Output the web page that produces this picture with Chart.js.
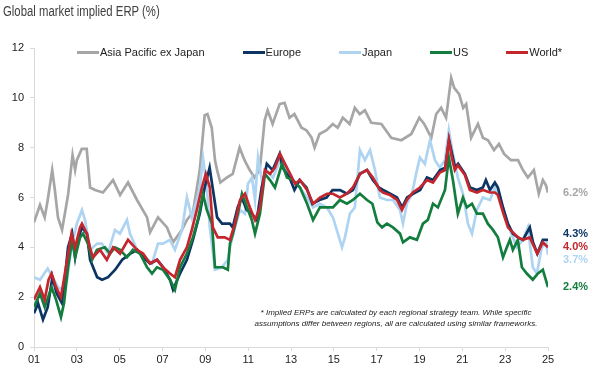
<!DOCTYPE html>
<html>
<head>
<meta charset="utf-8">
<script src="https://cdn.jsdelivr.net/npm/chart.js@4"></script>
<style>
  body { margin: 0; background: #fff; }
  #wrap { position: relative; width: 598px; height: 381px; font-family: "Liberation Sans", Arial, sans-serif; }
  #title { position: absolute; left: 3px; top: 3px; font-family: "Liberation Sans", Arial, sans-serif; font-size: 14px; color: #404040; transform: scaleX(0.81); transform-origin: left top; white-space: nowrap; }
  #legend { position: absolute; left: 77px; top: 46px; display: flex; gap: 38px; font-size: 11px; color: #222; }
  #legend .item { display: flex; align-items: center; }
  #legend .swatch { width: 22px; height: 3px; margin-right: 1px; }
  #note { position: absolute; left: 246px; top: 307px; width: 300px; text-align: center; font-size: 8px; font-style: italic; line-height: 11px; color: #222; }
</style>
</head>
<body>
<div id="wrap">
  <canvas id="erpChart" width="598" height="381"></canvas>
  <div id="title">Global market implied ERP (%)</div>
  <div id="legend"></div>
  <div id="note">* Implied ERPs are calculated by each regional strategy team. While specific assumptions differ between regions, all are calculated using similar frameworks.</div>
</div>
<script>
// Series: [year, ERP %]
const asiaPacExJapan = [
  [2001.0, 5.0], [2001.28, 5.7], [2001.5, 5.2], [2001.64, 5.9], [2001.85, 7.1], [2001.96, 6.4],
  [2002.12, 5.2], [2002.31, 4.7], [2002.45, 5.4], [2002.59, 6.1], [2002.8, 7.7], [2002.92, 7.1],
  [2003.0, 7.5], [2003.23, 7.95], [2003.46, 7.95], [2003.62, 6.4], [2003.85, 6.3], [2004.22, 6.2],
  [2004.69, 6.7], [2005.02, 6.1], [2005.39, 6.6], [2005.81, 5.9], [2006.28, 5.2], [2006.42, 4.6],
  [2006.79, 5.2], [2007.21, 4.8], [2007.49, 4.2], [2007.91, 4.7], [2008.14, 5.1], [2008.42, 5.4],
  [2008.74, 7.1], [2008.97, 9.3], [2009.1, 9.35], [2009.3, 8.8], [2009.45, 7.5], [2009.55, 7.1],
  [2009.7, 6.6], [2010.0, 6.8], [2010.28, 6.95], [2010.6, 8.0], [2010.83, 7.5], [2011.07, 7.1],
  [2011.3, 6.8], [2011.54, 7.1], [2011.77, 9.1], [2011.91, 9.5], [2012.14, 8.95], [2012.47, 9.75],
  [2012.7, 9.8], [2012.93, 9.2], [2013.16, 9.35], [2013.49, 8.8], [2013.72, 8.7], [2013.96, 8.4],
  [2014.1, 8.0], [2014.33, 8.55], [2014.66, 8.7], [2014.95, 8.95], [2015.18, 8.8], [2015.42, 9.2],
  [2015.74, 8.95], [2015.98, 9.6], [2016.21, 9.35], [2016.45, 9.5], [2016.75, 9.0], [2017.22, 8.95],
  [2017.68, 8.4], [2018.15, 8.3], [2018.62, 8.55], [2018.99, 9.2], [2019.22, 8.95], [2019.55, 8.4],
  [2019.78, 9.35], [2020.01, 9.6], [2020.24, 9.2], [2020.48, 10.8], [2020.62, 10.4], [2020.85, 10.15],
  [2021.04, 9.6], [2021.18, 9.75], [2021.41, 8.4], [2021.73, 8.95], [2021.96, 8.4], [2022.2, 8.3],
  [2022.48, 7.9], [2022.71, 8.15], [2022.95, 7.75], [2023.27, 7.5], [2023.6, 7.5], [2023.83, 7.1],
  [2024.06, 6.8], [2024.34, 7.1], [2024.57, 6.15], [2024.76, 6.7], [2024.9, 6.5], [2025.0, 6.2]
];
const europe = [
  [2001.0, 1.35], [2001.19, 1.75], [2001.42, 1.1], [2001.64, 1.6], [2001.86, 2.8], [2002.06, 2.15],
  [2002.31, 1.75], [2002.45, 2.8], [2002.59, 4.0], [2002.78, 4.55], [2002.92, 3.6], [2003.05, 4.3],
  [2003.24, 4.8], [2003.47, 4.55], [2003.62, 3.5], [2003.95, 2.8], [2004.18, 2.7], [2004.46, 2.8],
  [2004.79, 3.1], [2005.12, 3.5], [2005.5, 3.75], [2005.82, 3.9], [2006.1, 3.6], [2006.42, 3.35],
  [2006.75, 3.5], [2007.03, 3.2], [2007.35, 2.7], [2007.49, 2.3], [2007.82, 2.95], [2008.14, 3.5],
  [2008.42, 4.3], [2008.74, 5.35], [2008.97, 6.4], [2009.2, 7.2], [2009.34, 6.4], [2009.55, 5.2],
  [2009.78, 4.95], [2010.15, 4.95], [2010.28, 4.8], [2010.51, 5.6], [2010.7, 6.0], [2010.93, 5.5],
  [2011.17, 5.35], [2011.4, 5.1], [2011.63, 6.4], [2011.87, 7.35], [2012.14, 7.1], [2012.47, 7.75],
  [2012.61, 7.2], [2012.93, 6.8], [2013.16, 6.3], [2013.4, 6.7], [2013.72, 6.4], [2014.0, 5.75],
  [2014.33, 5.9], [2014.66, 6.0], [2014.94, 6.3], [2015.29, 6.3], [2015.61, 6.15], [2015.89, 6.3],
  [2016.22, 6.95], [2016.55, 7.1], [2016.82, 6.7], [2017.1, 6.4], [2017.3, 6.3], [2017.63, 6.15],
  [2017.95, 6.0], [2018.19, 5.6], [2018.42, 6.0], [2018.7, 6.15], [2019.03, 6.3], [2019.35, 6.8],
  [2019.63, 6.7], [2019.96, 7.1], [2020.2, 7.2], [2020.38, 8.3], [2020.52, 7.75], [2020.66, 7.2],
  [2020.8, 7.35], [2021.12, 6.95], [2021.36, 6.4], [2021.68, 6.3], [2021.96, 6.4], [2022.1, 6.7],
  [2022.29, 6.3], [2022.52, 6.6], [2022.66, 6.4], [2022.9, 5.6], [2023.13, 4.95], [2023.36, 4.55],
  [2023.59, 4.4], [2023.83, 4.3], [2024.15, 4.8], [2024.3, 4.2], [2024.5, 3.75], [2024.76, 4.3],
  [2025.0, 4.3]
];
const japan = [
  [2001.0, 2.8], [2001.28, 2.7], [2001.64, 3.15], [2001.87, 2.8], [2002.12, 2.4], [2002.31, 2.3],
  [2002.54, 2.7], [2002.75, 4.0], [2003.0, 4.95], [2003.24, 5.5], [2003.38, 5.1], [2003.62, 3.9],
  [2003.95, 4.15], [2004.17, 4.15], [2004.45, 3.75], [2004.78, 4.7], [2005.01, 4.55], [2005.34, 5.1],
  [2005.48, 4.55], [2005.81, 3.9], [2006.18, 3.6], [2006.51, 3.35], [2006.79, 4.15], [2007.02, 4.15],
  [2007.35, 4.3], [2007.58, 3.9], [2007.91, 4.7], [2008.14, 6.0], [2008.37, 5.2], [2008.6, 5.9],
  [2008.74, 6.4], [2008.89, 7.6], [2009.07, 6.4], [2009.21, 4.8], [2009.45, 3.1], [2009.77, 3.2],
  [2010.05, 3.5], [2010.15, 4.0], [2010.38, 4.8], [2010.62, 5.5], [2010.85, 5.35], [2010.99, 6.55],
  [2011.18, 6.8], [2011.32, 5.9], [2011.46, 7.6], [2011.64, 6.7], [2011.87, 7.1], [2012.16, 6.8],
  [2012.49, 7.5], [2012.81, 7.1], [2013.09, 6.7], [2013.42, 6.4], [2013.75, 6.0], [2014.03, 5.6],
  [2014.35, 5.75], [2014.68, 5.6], [2014.96, 5.2], [2015.19, 4.55], [2015.38, 4.0], [2015.52, 4.4],
  [2015.75, 5.35], [2015.98, 5.6], [2016.22, 7.9], [2016.45, 7.5], [2016.69, 7.9], [2016.92, 7.1],
  [2017.15, 6.0], [2017.48, 5.9], [2017.76, 5.9], [2018.09, 5.5], [2018.23, 4.95], [2018.41, 5.75],
  [2018.65, 6.15], [2018.88, 7.1], [2019.02, 7.6], [2019.25, 7.35], [2019.49, 8.3], [2019.72, 7.5],
  [2019.95, 7.2], [2020.19, 7.5], [2020.37, 8.7], [2020.56, 7.75], [2020.79, 6.8], [2021.03, 6.15],
  [2021.26, 4.95], [2021.45, 4.55], [2021.68, 5.5], [2021.96, 6.0], [2022.29, 5.9], [2022.52, 6.4],
  [2022.75, 6.0], [2022.99, 5.2], [2023.22, 4.7], [2023.55, 4.0], [2023.83, 4.3], [2024.06, 4.8],
  [2024.29, 3.2], [2024.48, 2.95], [2024.71, 4.0], [2024.92, 4.15], [2025.0, 3.7]
];
const us = [
  [2001.0, 1.6], [2001.28, 2.15], [2001.5, 1.6], [2001.82, 2.4], [2002.03, 1.9], [2002.26, 1.2],
  [2002.4, 1.75], [2002.59, 3.2], [2002.78, 4.3], [2002.92, 3.6], [2003.15, 4.4], [2003.29, 4.55],
  [2003.52, 4.15], [2003.71, 3.5], [2003.94, 3.9], [2004.31, 4.0], [2004.55, 3.75], [2004.78, 4.0],
  [2005.02, 3.9], [2005.34, 3.6], [2005.62, 3.9], [2005.95, 3.75], [2006.28, 3.2], [2006.51, 2.95],
  [2006.74, 3.2], [2007.02, 3.1], [2007.35, 2.7], [2007.58, 2.3], [2007.82, 3.2], [2008.14, 3.75],
  [2008.42, 4.4], [2008.65, 5.1], [2008.89, 6.15], [2009.07, 5.5], [2009.31, 4.95], [2009.45, 3.2],
  [2009.82, 3.2], [2010.05, 3.1], [2010.15, 4.15], [2010.29, 4.55], [2010.52, 5.35], [2010.71, 6.15],
  [2010.95, 5.6], [2011.17, 5.1], [2011.32, 4.55], [2011.55, 5.35], [2011.78, 6.95], [2012.02, 6.7],
  [2012.25, 6.4], [2012.58, 7.35], [2012.81, 6.8], [2013.09, 6.7], [2013.42, 6.4], [2013.75, 5.75],
  [2014.03, 5.1], [2014.35, 5.6], [2014.68, 5.6], [2014.96, 5.6], [2015.28, 5.9], [2015.61, 5.75],
  [2015.89, 5.9], [2016.22, 6.15], [2016.55, 5.9], [2016.8, 5.75], [2017.03, 5.0], [2017.25, 4.8],
  [2017.48, 4.95], [2017.76, 4.8], [2018.09, 4.55], [2018.23, 4.2], [2018.55, 4.4], [2018.88, 4.3],
  [2019.16, 4.95], [2019.39, 5.1], [2019.63, 5.75], [2019.86, 5.6], [2020.19, 6.3], [2020.37, 7.6],
  [2020.56, 6.7], [2020.79, 5.35], [2021.03, 6.0], [2021.21, 5.6], [2021.45, 5.75], [2021.68, 5.35],
  [2021.96, 5.35], [2022.19, 4.95], [2022.43, 4.7], [2022.66, 4.4], [2022.9, 3.6], [2023.08, 4.0],
  [2023.22, 4.3], [2023.36, 3.9], [2023.59, 4.3], [2023.78, 3.2], [2024.01, 2.95], [2024.29, 2.7],
  [2024.53, 2.95], [2024.76, 3.1], [2025.0, 2.4]
];
const world = [
  [2001.0, 1.9], [2001.28, 2.4], [2001.5, 1.9], [2001.68, 2.7], [2001.82, 2.95], [2002.03, 2.4],
  [2002.26, 2.0], [2002.49, 3.2], [2002.75, 4.55], [2002.92, 4.0], [2003.15, 4.8], [2003.24, 4.95],
  [2003.47, 4.55], [2003.61, 4.0], [2003.75, 3.6], [2004.08, 3.9], [2004.4, 3.5], [2004.69, 4.0],
  [2005.02, 3.75], [2005.39, 4.3], [2005.81, 3.9], [2006.09, 3.75], [2006.42, 3.35], [2006.74, 3.5],
  [2007.02, 3.2], [2007.35, 2.95], [2007.58, 2.8], [2007.82, 3.5], [2008.14, 4.0], [2008.37, 4.7],
  [2008.6, 5.5], [2008.84, 6.4], [2009.02, 6.95], [2009.21, 6.4], [2009.35, 4.8], [2009.58, 4.4],
  [2009.9, 4.4], [2010.15, 4.3], [2010.38, 4.95], [2010.62, 5.9], [2010.85, 6.15], [2011.08, 5.6],
  [2011.32, 5.1], [2011.55, 5.6], [2011.78, 7.1], [2012.02, 6.95], [2012.25, 7.2], [2012.49, 7.75],
  [2012.72, 7.35], [2012.96, 6.95], [2013.19, 6.55], [2013.42, 6.7], [2013.75, 6.3], [2014.03, 5.75],
  [2014.35, 6.0], [2014.68, 6.15], [2014.96, 6.15], [2015.28, 6.0], [2015.61, 6.15], [2015.89, 6.4],
  [2016.22, 6.95], [2016.55, 7.1], [2016.82, 6.8], [2017.15, 6.3], [2017.3, 6.2], [2017.62, 6.1],
  [2017.95, 5.9], [2018.18, 5.5], [2018.41, 5.9], [2018.69, 6.2], [2019.02, 6.4], [2019.35, 6.7],
  [2019.63, 6.6], [2019.95, 7.0], [2020.19, 7.1], [2020.37, 8.3], [2020.51, 7.6], [2020.65, 7.1],
  [2020.79, 7.3], [2021.12, 6.9], [2021.35, 6.3], [2021.68, 6.2], [2021.96, 6.3], [2022.29, 6.2],
  [2022.52, 6.2], [2022.66, 6.1], [2022.9, 5.4], [2023.13, 4.8], [2023.36, 4.6], [2023.6, 4.4],
  [2023.83, 4.3], [2024.15, 4.4], [2024.5, 3.75], [2024.76, 4.2], [2025.0, 4.0]
];

const seriesNames = ['Asia Pacific ex Japan', 'Europe', 'Japan', 'US', 'World*'];
const seriesData = [asiaPacExJapan, europe, japan, us, world];
const seriesColors = ['#a6a6a6', '#0c3563', '#aed4f2', '#137d3e', '#c4262e'];
const drawOrder = [4, 2, 3, 1, 0];
const endLabels = [6.2, 4.3, 3.7, 2.4, 4.0];

const yearTicks = [2001, 2025];
const erpRange = [0, 12];

// HTML legend
const legendEl = document.getElementById('legend');
seriesNames.forEach((name, i) => {
  const item = document.createElement('div');
  item.className = 'item';
  item.innerHTML = '<span class="swatch" style="background:' + seriesColors[i] + '"></span>' + name;
  legendEl.appendChild(item);
});

// End-of-series value labels on the right
const endLabelPlugin = {
  id: 'endLabels',
  afterDatasetsDraw(chart) {
    const { ctx, chartArea, scales } = chart;
    const items = endLabels.map((v, i) => ({ v, color: seriesColors[i], y: scales.y.getPixelForValue(v) }));
    items.sort((a, b) => a.y - b.y);
    for (let k = 0; k < 30; k++) {
      for (let i = 0; i < items.length - 1; i++) {
        const gap = items[i + 1].y - items[i].y;
        if (gap < 13) {
          const push = (13 - gap) / 2;
          items[i].y -= push;
          items[i + 1].y += push;
        }
      }
    }
    ctx.save();
    ctx.font = 'bold 11px "Liberation Sans", Arial, sans-serif';
    ctx.textBaseline = 'middle';
    ctx.textAlign = 'left';
    items.forEach((it) => {
      ctx.fillStyle = it.color;
      ctx.fillText(it.v.toFixed(1) + '%', chartArea.right + 15, it.y);
    });
    ctx.restore();
  }
};

const ctx = document.getElementById('erpChart').getContext('2d');

new Chart(ctx, {
  type: 'line',
  data: {
    datasets: seriesNames.map((name, i) => ({
      label: name,
      data: seriesData[i].map((p) => ({ x: p[0], y: p[1] })),
      borderColor: seriesColors[i],
      borderWidth: 2.7,
      pointRadius: 0,
      tension: 0,
      fill: false,
      order: drawOrder[i],
    })),
  },
  options: {
    responsive: false,
    animation: false,
    layout: { padding: { top: 48, right: 50, left: 0, bottom: 0 } },
    plugins: {
      legend: { display: false },
      tooltip: { enabled: false },
    },
    scales: {
      x: {
        type: 'linear',
        min: yearTicks[0],
        max: yearTicks[1],
        afterFit: (scale) => { scale.height = 34; },
        ticks: {
          stepSize: 2,
          color: '#222',
          font: { size: 11, family: '"Liberation Sans", Arial, sans-serif' },
          padding: 2,
          maxRotation: 0,
          callback: (v) => String(v % 100).padStart(2, '0'),
        },
        grid: { drawOnChartArea: false, tickLength: 4, color: '#d9d9d9' },
        border: { color: '#d9d9d9' },
      },
      y: {
        min: erpRange[0],
        max: erpRange[1],
        afterFit: (scale) => { scale.width = 34; },
        ticks: {
          stepSize: 2,
          color: '#222',
          font: { size: 11, family: '"Liberation Sans", Arial, sans-serif' },
          padding: 6,
        },
        grid: { drawOnChartArea: false, tickLength: 4, color: '#d9d9d9' },
        border: { color: '#d9d9d9' },
      },
    },
  },
  plugins: [endLabelPlugin],
});
</script>
</body>
</html>
